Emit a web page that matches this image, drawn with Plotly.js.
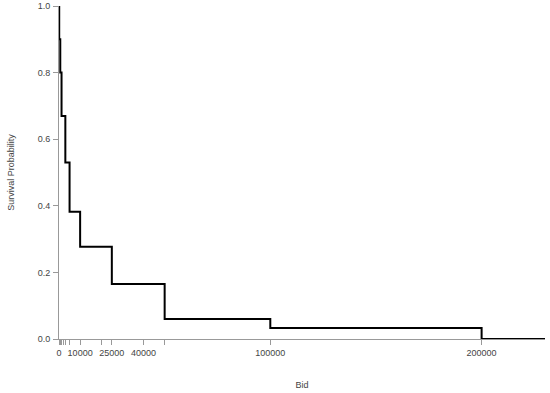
<!DOCTYPE html>
<html>
<head>
<meta charset="utf-8">
<script src="https://cdn.plot.ly/plotly-3.0.1.min.js"></script>
<style>html,body{margin:0;padding:0;background:#fff;}#chart{width:550px;height:393px;}</style>
</head>
<body>
<div id="chart"></div>
<script>
// Kaplan-Meier style survival curve (step points)
const bid = [0, 100, 600, 1200, 3000, 5000, 10000, 25000, 50000, 100000, 200000, 230000];
const survival = [1.0, 0.9, 0.8, 0.67, 0.53, 0.382, 0.277, 0.165, 0.06, 0.033, 0.0, 0.0];
// x tick marks (at observed bids) and their labels (blank where R dropped overlapping ones)
const xTickVals = [0, 600, 1200, 2000, 3000, 5000, 10000, 20000, 25000, 40000, 50000, 100000, 200000];
const xTickText = ["0", "", "", "", "", "", "10000", "", "25000", "40000", "", "100000", "200000"];
const yTickVals = [0, 0.2, 0.4, 0.6, 0.8, 1.0];

const trace = {
  x: bid, y: survival, type: 'scatter', mode: 'lines',
  line: {shape: 'hv', color: '#000', width: 2},
  hoverinfo: 'skip', showlegend: false
};
const axisCommon = {
  showgrid: false, zeroline: false, showline: true, linecolor: '#999', linewidth: 1,
  ticks: 'outside', ticklen: 5, tickcolor: '#999', tickwidth: 1,
  tickfont: {family: 'Liberation Sans, Arial, sans-serif', size: 9, color: '#444'}
};
const layout = {
  width: 550, height: 393,
  margin: {l: 59, r: 5, t: 6, b: 54},
  paper_bgcolor: '#fff', plot_bgcolor: '#fff',
  font: {family: 'Liberation Sans, Arial, sans-serif', size: 9, color: '#444'},
  xaxis: Object.assign({}, axisCommon, {
    range: [0, 230000], tickmode: 'array', tickvals: xTickVals, ticktext: xTickText,
    title: {text: 'Bid', standoff: 24, font: {size: 9, color: '#444'}}
  }),
  yaxis: Object.assign({}, axisCommon, {
    range: [0, 1], tickmode: 'array', tickvals: yTickVals, tickformat: '.1f',
    ticklabelstandoff: 1,
    title: {text: 'Survival Probability', standoff: 21, font: {size: 9, color: '#444'}}
  })
};
Plotly.newPlot('chart', [trace], layout, {displayModeBar: false, staticPlot: true});
</script>
</body>
</html>
